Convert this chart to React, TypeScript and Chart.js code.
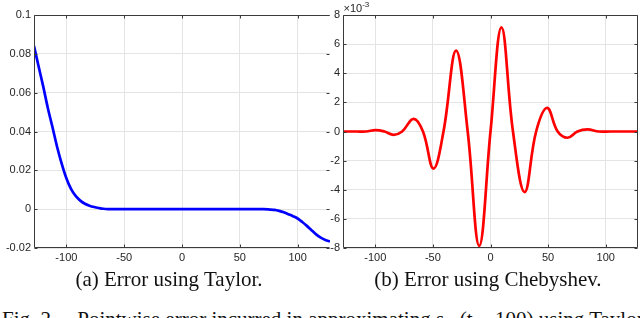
import React, { useEffect, useRef } from "react";
import { Chart, registerables } from "chart.js";

Chart.register(...registerables);

// ---------- data ----------
const X_MIN = -128;
const X_MAX = 128;
const X_TICKS = [-100, -50, 0, 50, 100];

const TAYLOR_Y_TICKS = [-0.02, 0, 0.02, 0.04, 0.06, 0.08, 0.1];
const TAYLOR_T = [
  -128, -124, -120, -116, -112, -108, -104, -100, -96, -92, -88, -84, -80, -76, -72, -68, -64,
  -40, 0, 40, 64, 70, 76, 80, 84, 88, 92, 96, 100, 104, 108, 112, 116, 120, 124, 128,
];
const TAYLOR_ERR = [
  0.084, 0.0735, 0.0631, 0.052, 0.0422, 0.032, 0.0233, 0.0159, 0.0104, 0.0068, 0.0044, 0.0028,
  0.0018, 0.0011, 0.0006, 0.0002, 0.00005, 0, 0, 0, 0, 0, -0.0002, -0.0004, -0.0009, -0.0016,
  -0.0026, -0.0036, -0.0048, -0.0066, -0.0086, -0.0108, -0.013, -0.0147, -0.0159, -0.0166,
];

const CHEB_Y_TICKS = [-8, -6, -4, -2, 0, 2, 4, 6, 8]; // ×10^-3
const CHEB_T = [
  -128, -116, -108, -99.7, -92, -84, -76.7, -66.7, -58.6, -49.5, -40.8, -29.9, -19.8, -9.8, 0,
  9.5, 19.5, 29.6, 39.6, 49.1, 58.3, 66.9, 75.5, 84.1, 94, 104, 128,
];
const CHEB_ERR = [
  0, 0, 0, 0.1, 0, -0.23, 0, 0.87, 0, -2.55, 0, 5.55, 0, -7.85, 0, 7.15, 0, -4.16, 0, 1.62, 0,
  -0.43, 0, 0.14, 0, 0, 0,
];

const CAPTION_A = "(a) Error using Taylor.";
const CAPTION_B = "(b) Error using Chebyshev.";
const FIG_TEXT = "Fig. 2.    Pointwise error incurred in approximating s   (t \u2212 100) using Taylor";

// ---------- helpers ----------
const AXIS_COLOR = "#3a3a3a";
const GRID_COLOR = "#e4e4e4";
const TICK_FONT = { family: "'Liberation Sans', Arial, sans-serif", size: 11 };

function fmt(v: number) {
  return String(Number(v.toFixed(4)));
}

function framePlugin(drawRight: boolean, exponent: boolean) {
  return {
    id: "frame",
    afterDraw(chart: any) {
      const { ctx, chartArea: a, scales } = chart;
      const L = Math.round(a.left) + 0.5;
      const R = Math.round(a.right) - 0.5;
      const T = Math.round(a.top) + 0.5;
      const B = Math.round(a.bottom) - 0.5;
      ctx.save();
      ctx.strokeStyle = AXIS_COLOR;
      ctx.lineWidth = 1;
      ctx.beginPath();
      ctx.moveTo(R, T);
      ctx.lineTo(L, T);
      ctx.lineTo(L, B);
      ctx.lineTo(R, B);
      if (drawRight) ctx.lineTo(R, T);
      ctx.stroke();
      const len = 3;
      ctx.beginPath();
      for (const t of scales.x.ticks) {
        const px = Math.round(scales.x.getPixelForValue(t.value)) + 0.5;
        ctx.moveTo(px, B);
        ctx.lineTo(px, B - len);
        ctx.moveTo(px, T);
        ctx.lineTo(px, T + len);
      }
      for (const t of scales.y.ticks) {
        const py = Math.round(scales.y.getPixelForValue(t.value)) + 0.5;
        ctx.moveTo(L, py);
        ctx.lineTo(L + len, py);
        ctx.moveTo(R, py);
        ctx.lineTo(R - len, py);
      }
      ctx.stroke();
      if (exponent) {
        ctx.fillStyle = "#262626";
        ctx.textBaseline = "alphabetic";
        ctx.font = "11px 'Liberation Sans', Arial, sans-serif";
        const x0 = a.left + 0.5;
        ctx.fillText("\u00d710", x0, 12);
        const w = ctx.measureText("\u00d710").width;
        ctx.font = "8px 'Liberation Sans', Arial, sans-serif";
        ctx.fillText("-3", x0 + w, 7);
      }
      ctx.restore();
    },
  };
}

type PlotProps = {
  left: number;
  width: number;
  height: number;
  yWidth: number;
  padRight: number;
  xs: number[];
  ys: number[];
  yTicks: number[];
  yMin: number;
  yMax: number;
  color: string;
  drawRight: boolean;
  exponent: boolean;
  monotone: boolean;
};

function Plot(p: PlotProps) {
  const ref = useRef<HTMLCanvasElement | null>(null);
  useEffect(() => {
    if (!ref.current) return;
    const data = p.xs.map((x, i) => ({ x, y: p.ys[i] }));
    const chart = new Chart(ref.current, {
      type: "line",
      data: {
        datasets: [
          {
            data,
            borderColor: p.color,
            borderWidth: 2.7,
            pointRadius: 0,
            fill: false,
            tension: 0.4,
            cubicInterpolationMode: p.monotone ? "monotone" : "default",
          },
        ],
      },
      options: {
        animation: false,
        responsive: false,
        maintainAspectRatio: false,
        layout: { padding: { top: 15, right: p.padRight, left: 0, bottom: 0 } },
        plugins: { legend: { display: false }, tooltip: { enabled: false }, title: { display: false } },
        scales: {
          x: {
            type: "linear",
            min: X_MIN,
            max: X_MAX,
            afterBuildTicks: (s: any) => {
              s.ticks = X_TICKS.map((v) => ({ value: v }));
            },
            afterFit: (s: any) => {
              s.height = 22;
            },
            ticks: { padding: 3, color: "#262626", font: TICK_FONT, callback: (v: any) => fmt(Number(v)), maxRotation: 0 },
            grid: { color: GRID_COLOR, drawTicks: false, lineWidth: 1 },
            border: { display: false },
          },
          y: {
            type: "linear",
            min: p.yMin,
            max: p.yMax,
            afterBuildTicks: (s: any) => {
              s.ticks = p.yTicks.map((v) => ({ value: v }));
            },
            afterFit: (s: any) => {
              s.width = p.yWidth;
            },
            ticks: { padding: 3, color: "#262626", font: TICK_FONT, callback: (v: any) => fmt(Number(v)) },
            grid: { color: GRID_COLOR, drawTicks: false, lineWidth: 1 },
            border: { display: false },
          },
        },
      },
      plugins: [framePlugin(p.drawRight, p.exponent)],
    } as any);
    return () => chart.destroy();
  }, []);
  return (
    <canvas
      ref={ref}
      width={p.width}
      height={p.height}
      style={{ position: "absolute", left: p.left, top: 0, width: p.width, height: p.height }}
    />
  );
}

const captionStyle: React.CSSProperties = {
  position: "absolute",
  top: 269,
  fontFamily: "'Liberation Serif', 'Times New Roman', serif",
  fontSize: 21,
  lineHeight: "21px",
  color: "#111",
  whiteSpace: "pre",
  textAlign: "center",
  width: 300,
};

export default function App() {
  return (
    <div
      style={{
        position: "fixed",
        left: 0,
        top: 0,
        width: 640,
        height: 318,
        overflow: "hidden",
        background: "#fff",
      }}
    >
      <Plot
        left={0}
        width={330}
        height={270}
        yWidth={34}
        padRight={0}
        xs={TAYLOR_T}
        ys={TAYLOR_ERR}
        yTicks={TAYLOR_Y_TICKS}
        yMin={-0.02}
        yMax={0.1}
        color="#0000ff"
        drawRight={false}
        exponent={false}
        monotone={true}
      />
      <Plot
        left={320}
        width={320}
        height={270}
        yWidth={23}
        padRight={2}
        xs={CHEB_T}
        ys={CHEB_ERR}
        yTicks={CHEB_Y_TICKS}
        yMin={-8}
        yMax={8}
        color="#ff0000"
        drawRight={true}
        exponent={true}
        monotone={false}
      />
      <div style={{ ...captionStyle, left: 169 - 150 }}>{CAPTION_A}</div>
      <div style={{ ...captionStyle, left: 488 - 150 }}>{CAPTION_B}</div>
      <div
        style={{
          position: "absolute",
          left: 2,
          top: 309,
          fontFamily: "'Liberation Serif', 'Times New Roman', serif",
          fontSize: 21,
          lineHeight: "21px",
          color: "#111",
          whiteSpace: "pre",
        }}
      >
        {FIG_TEXT}
      </div>
    </div>
  );
}
